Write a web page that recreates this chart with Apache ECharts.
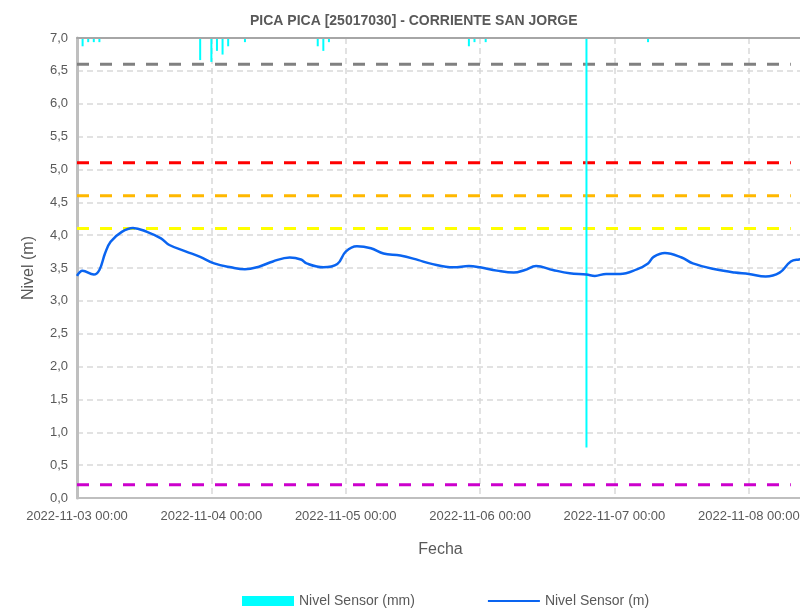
<!DOCTYPE html>
<html>
<head>
<meta charset="utf-8">
<script src="https://cdn.jsdelivr.net/npm/echarts@6/dist/echarts.min.js"></script>
<style>
  html, body { margin: 0; padding: 0; background: #fff; }
  #chart { width: 800px; height: 609px; }
</style>
</head>
<body>
<div id="chart"></div>
<script>
// nivel del sensor (m)
const nivelTimes = [
  "2022-11-03 00:00", "2022-11-03 01:00", "2022-11-03 03:00", "2022-11-03 04:00",
  "2022-11-03 05:00", "2022-11-03 06:00", "2022-11-03 08:00", "2022-11-03 10:00",
  "2022-11-03 12:30", "2022-11-03 15:00", "2022-11-03 16:30", "2022-11-03 19:30",
  "2022-11-03 22:00", "2022-11-04 00:30", "2022-11-04 03:30", "2022-11-04 06:00",
  "2022-11-04 08:30", "2022-11-04 11:00", "2022-11-04 14:00", "2022-11-04 16:00",
  "2022-11-04 17:00", "2022-11-04 20:00", "2022-11-04 22:30", "2022-11-05 00:00",
  "2022-11-05 02:00", "2022-11-05 04:30", "2022-11-05 06:45", "2022-11-05 09:45",
  "2022-11-05 13:00", "2022-11-05 15:00", "2022-11-05 19:15", "2022-11-05 22:00",
  "2022-11-06 00:00", "2022-11-06 03:00", "2022-11-06 06:00", "2022-11-06 08:00",
  "2022-11-06 10:00", "2022-11-06 13:00", "2022-11-06 16:00", "2022-11-06 19:00",
  "2022-11-06 20:30", "2022-11-06 22:30", "2022-11-07 01:00", "2022-11-07 04:00",
  "2022-11-07 06:00", "2022-11-07 07:00", "2022-11-07 09:00", "2022-11-07 12:00",
  "2022-11-07 14:00", "2022-11-07 18:00", "2022-11-07 21:30", "2022-11-08 00:00",
  "2022-11-08 03:00", "2022-11-08 05:30", "2022-11-08 07:30", "2022-11-08 09:00",
  "2022-11-08 10:00"
];
const nivelM = [
  3.38, 3.46, 3.40, 3.47,
  3.72, 3.90, 4.05, 4.11,
  4.05, 3.95, 3.85, 3.75,
  3.67, 3.57, 3.51, 3.48,
  3.52, 3.60, 3.66, 3.63,
  3.57, 3.51, 3.56, 3.75,
  3.83, 3.80, 3.72, 3.69,
  3.62, 3.57, 3.51, 3.53,
  3.51, 3.46, 3.43, 3.47,
  3.53, 3.47, 3.42, 3.40,
  3.38, 3.41, 3.41, 3.48,
  3.57, 3.67, 3.73, 3.66,
  3.57, 3.48, 3.43, 3.41,
  3.37, 3.43, 3.60, 3.63,
  3.64
];

// nivel del sensor (mm), eje secundario invertido
const sensorTimes = [
  "2022-11-03 01:00", "2022-11-03 02:00", "2022-11-03 03:00", "2022-11-03 04:00",
  "2022-11-03 22:00", "2022-11-04 00:00", "2022-11-04 01:00", "2022-11-04 02:00",
  "2022-11-04 03:00", "2022-11-04 06:00", "2022-11-04 19:00", "2022-11-04 20:00",
  "2022-11-04 21:00", "2022-11-05 22:00", "2022-11-05 23:00", "2022-11-06 01:00",
  "2022-11-06 19:00", "2022-11-07 06:00"
];
const sensorMm = [
  0.9, 0.45, 0.45, 0.45,
  2.4, 2.6, 1.4, 1.8,
  0.9, 0.45, 0.9, 1.4,
  0.45, 0.9, 0.45, 0.45,
  44.5, 0.45
];

// umbrales (m)
const umbrales = [6.6, 5.1, 4.6, 4.1, 0.2];
const umbralColores = ["#808080", "#ff0000", "#ffb800", "#ffff00", "#cc00cc"];
const umbralInicio = "2022-11-03 00:00";
const umbralFin = "2022-11-08 07:30";

const yTicks = { min: 0, max: 7, interval: 0.5 };

const toMs = (s) => {
  const [d, h] = s.split(" ");
  const [Y, M, D] = d.split("-").map(Number);
  const [hh, mm] = h.split(":").map(Number);
  return Date.UTC(Y, M - 1, D, hh, mm);
};
const pad = (n) => String(n).padStart(2, "0");
const DAY = 86400000;
const xMin = toMs("2022-11-03 00:00");
const xMax = toMs("2022-11-08 12:00");

const textColor = "#595959";
const font = "Liberation Sans";

const chart = echarts.init(document.getElementById("chart"), null, { renderer: "canvas" });

const thresholdSeries = umbrales.map((v, i) => ({
  name: "umbral" + i,
  type: "line",
  symbol: "none",
  silent: true,
  animation: false,
  lineStyle: { color: umbralColores[i], width: 3, type: [12, 11] },
  data: [[toMs(umbralInicio), v], [toMs(umbralFin), v]],
  z: 2
}));

const dashedGrid = { show: true, lineStyle: { color: "#d9d9d9", type: [6, 4], width: 1.5 } };

chart.setOption({
  animation: false,
  textStyle: { fontFamily: font },
  title: {
    text: "PICA PICA [25017030] - CORRIENTE SAN JORGE",
    left: 245,
    top: 9,
    textStyle: { fontSize: 14, fontWeight: "bold", color: textColor, fontFamily: font }
  },
  legend: {
    left: 237,
    top: 589,
    itemWidth: 52,
    itemHeight: 10,
    itemGap: 72,
    textStyle: { fontSize: 14, color: textColor, fontFamily: font },
    data: [
      { name: "Nivel Sensor (mm)", icon: "rect" },
      { name: "Nivel Sensor (m)", itemStyle: { opacity: 0 } }
    ]
  },
  grid: {
    left: 77,
    top: 38,
    width: 739,
    height: 460,
    outerBoundsMode: "none",
    containLabel: false
  },
  xAxis: [
    {
      type: "value",
      min: xMin,
      max: xMax,
      interval: DAY,
      name: "Fecha",
      nameLocation: "middle",
      nameGap: 44,
      nameTextStyle: { fontSize: 16, color: textColor, padding: [0, 12, 0, 0] },
      axisLine: { lineStyle: { color: "#bfbfbf", width: 2 } },
      axisTick: { show: false },
      axisLabel: {
        color: textColor,
        fontSize: 13,
        margin: 12,
        hideOverlap: false,
        formatter: (v) => {
          const d = new Date(v);
          if (d.getUTCHours() !== 0 || d.getUTCMinutes() !== 0) return "";
          return d.getUTCFullYear() + "-" + pad(d.getUTCMonth() + 1) + "-" + pad(d.getUTCDate()) + " 00:00";
        }
      },
      splitLine: dashedGrid
    },
    {
      type: "value",
      position: "top",
      min: xMin,
      max: xMax,
      interval: DAY,
      axisLine: { show: true, lineStyle: { color: "#a6a6a6", width: 2 } },
      axisTick: { show: false },
      axisLabel: { show: false },
      splitLine: { show: false },
      z: 10
    }
  ],
  yAxis: [
    {
      type: "value",
      min: yTicks.min,
      max: yTicks.max,
      interval: yTicks.interval,
      name: "Nivel (m)",
      nameLocation: "middle",
      nameGap: 40,
      nameTextStyle: { fontSize: 16, color: textColor },
      axisLine: { show: true, lineStyle: { color: "#bfbfbf", width: 3 } },
      axisTick: { show: false },
      axisLabel: {
        color: textColor,
        fontSize: 13,
        margin: 9,
        formatter: (v) => v.toFixed(1).replace(".", ",")
      },
      splitLine: dashedGrid
    },
    {
      type: "value",
      min: 0,
      max: 50,
      inverse: true,
      show: false,
      splitLine: { show: false }
    }
  ],
  series: [
    {
      name: "Nivel Sensor (mm)",
      type: "bar",
      yAxisIndex: 1,
      barWidth: 2,
      itemStyle: { color: "#00ffff" },
      data: sensorTimes.map((t, i) => [toMs(t), sensorMm[i]]),
      z: 3
    },
    ...thresholdSeries,
    {
      name: "Nivel Sensor (m)",
      type: "line",
      symbol: "none",
      smooth: 0.4,
      lineStyle: { color: "#0a64f0", width: 2.5 },
      itemStyle: { color: "#0a64f0" },
      data: nivelTimes.map((t, i) => [toMs(t), nivelM[i]]),
      z: 4
    }
  ]
});
</script>
</body>
</html>
